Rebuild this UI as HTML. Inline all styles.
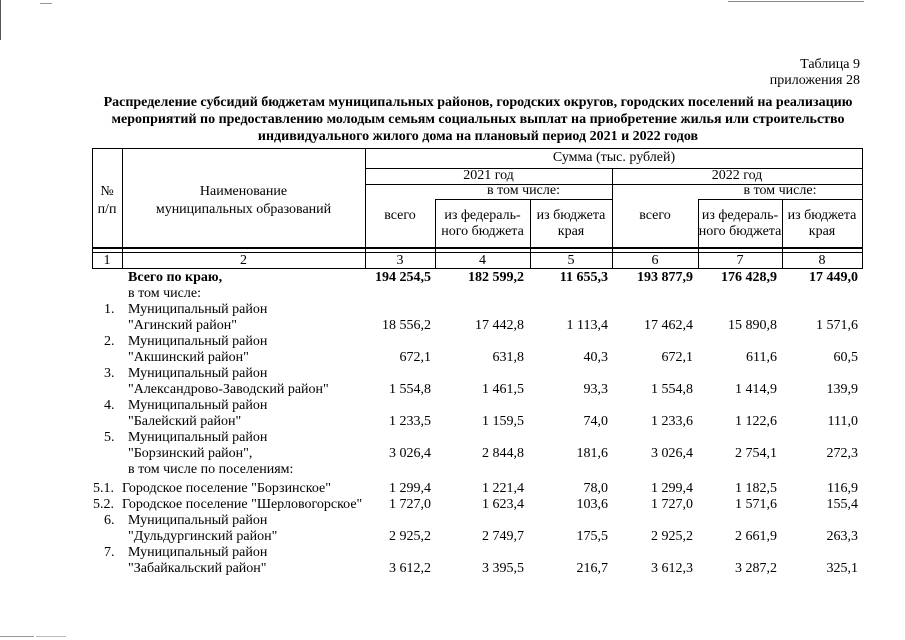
<!DOCTYPE html>
<html><head><meta charset="utf-8"><style>
body{margin:0;width:905px;height:640px;background:#fff;position:relative;overflow:hidden;font-family:"Liberation Serif","DejaVu Serif",serif;font-size:14px;color:#000}
.t{position:absolute;white-space:nowrap;line-height:16px}
.c{position:absolute;text-align:center;line-height:16px;white-space:nowrap}
.h{position:absolute;background:#000;height:1px}
.v{position:absolute;background:#000;width:1px}
.b{font-weight:bold}
.r{text-align:right}
</style></head><body>
<div class="h" style="left:728px;top:1px;width:136px;background:#888"></div>
<div class="h" style="left:40px;top:3px;width:12px;background:#999"></div>
<div class="v" style="left:0;top:0;height:40px;background:#555"></div>

<div class="t r" style="right:45px;top:57px">Таблица 9</div>
<div class="t r" style="right:45px;top:73px">приложения 28</div>
<div class="c b" style="left:60px;width:836px;top:95px">Распределение субсидий бюджетам муниципальных районов, городских округов, городских поселений на реализацию</div>
<div class="c b" style="left:60px;width:836px;top:112px">мероприятий по предоставлению молодым семьям социальных выплат на приобретение жилья или строительство</div>
<div class="c b" style="left:60px;width:836px;top:129px">индивидуального жилого дома на плановый период 2021 и 2022 годов</div>

<!-- grid -->
<div class="h" style="left:92px;top:148px;width:771px"></div>
<div class="h" style="left:365px;top:168px;width:498px"></div>
<div class="h" style="left:365px;top:184px;width:498px"></div>
<div class="h" style="left:435px;top:199px;width:177px"></div>
<div class="h" style="left:698px;top:199px;width:165px"></div>
<div class="h" style="left:92px;top:247px;width:771px;height:2px"></div>
<div class="h" style="left:92px;top:252px;width:771px"></div>
<div class="h" style="left:92px;top:268px;width:771px"></div>
<div class="v" style="left:92px;top:148px;height:121px"></div>
<div class="v" style="left:122px;top:148px;height:121px"></div>
<div class="v" style="left:365px;top:148px;height:121px"></div>
<div class="v" style="left:435px;top:199px;height:70px"></div>
<div class="v" style="left:530px;top:199px;height:70px"></div>
<div class="v" style="left:612px;top:168px;height:101px"></div>
<div class="v" style="left:698px;top:199px;height:70px"></div>
<div class="v" style="left:782px;top:199px;height:70px"></div>
<div class="v" style="left:862px;top:148px;height:121px"></div>

<div class="c" style="left:365px;width:498px;top:150px">Сумма (тыс. рублей)</div>
<div class="c" style="left:365px;width:247px;top:168px">2021 год</div>
<div class="c" style="left:612px;width:250px;top:168px">2022 год</div>
<div class="c" style="left:435px;width:177px;top:183px">в том числе:</div>
<div class="c" style="left:698px;width:164px;top:183px">в том числе:</div>
<div class="c" style="left:92px;width:30px;top:183px;line-height:18px">№<br>п/п</div>
<div class="c" style="left:122px;width:243px;top:183px;line-height:18px">Наименование<br>муниципальных образований</div>
<div class="c" style="left:365px;width:70px;top:208px">всего</div>
<div class="c" style="left:435px;width:95px;top:208px">из федераль-<br>ного бюджета</div>
<div class="c" style="left:530px;width:82px;top:208px">из бюджета<br>края</div>
<div class="c" style="left:612px;width:86px;top:208px">всего</div>
<div class="c" style="left:698px;width:84px;top:208px">из федераль-<br>ного бюджета</div>
<div class="c" style="left:782px;width:80px;top:208px">из бюджета<br>края</div>
<div class="c" style="left:92px;width:30px;top:253px">1</div>
<div class="c" style="left:122px;width:243px;top:253px">2</div>
<div class="c" style="left:365px;width:70px;top:253px">3</div>
<div class="c" style="left:435px;width:95px;top:253px">4</div>
<div class="c" style="left:530px;width:82px;top:253px">5</div>
<div class="c" style="left:612px;width:86px;top:253px">6</div>
<div class="c" style="left:698px;width:84px;top:253px">7</div>
<div class="c" style="left:782px;width:80px;top:253px">8</div>

<!-- body -->
<div class="t b" style="left:128px;top:270px">Всего по краю,</div>
<div class="t" style="left:128px;top:286px">в том числе:</div>
<div class="t" style="left:104px;top:302px">1.</div><div class="t" style="left:128px;top:302px">Муниципальный район</div>
<div class="t" style="left:128px;top:318px">"Агинский район"</div>
<div class="t" style="left:104px;top:334px">2.</div><div class="t" style="left:128px;top:334px">Муниципальный район</div>
<div class="t" style="left:128px;top:350px">"Акшинский район"</div>
<div class="t" style="left:104px;top:366px">3.</div><div class="t" style="left:128px;top:366px">Муниципальный район</div>
<div class="t" style="left:128px;top:382px">"Александрово-Заводский район"</div>
<div class="t" style="left:104px;top:398px">4.</div><div class="t" style="left:128px;top:398px">Муниципальный район</div>
<div class="t" style="left:128px;top:414px">"Балейский район"</div>
<div class="t" style="left:104px;top:430px">5.</div><div class="t" style="left:128px;top:430px">Муниципальный район</div>
<div class="t" style="left:128px;top:446px">"Борзинский район",</div>
<div class="t" style="left:128px;top:462px">в том числе по поселениям:</div>
<div class="t" style="left:93px;top:481px">5.1.</div><div class="t" style="left:122px;top:481px">Городское поселение "Борзинское"</div>
<div class="t" style="left:93px;top:497px">5.2.</div><div class="t" style="left:122px;top:497px">Городское поселение "Шерловогорское"</div>
<div class="t" style="left:104px;top:513px">6.</div><div class="t" style="left:128px;top:513px">Муниципальный район</div>
<div class="t" style="left:128px;top:529px">"Дульдургинский район"</div>
<div class="t" style="left:104px;top:545px">7.</div><div class="t" style="left:128px;top:545px">Муниципальный район</div>
<div class="t" style="left:128px;top:561px">"Забайкальский район"</div>

<div id="nums"></div>
<script>
var rows=[[270,["194 254,5","182 599,2","11 655,3","193 877,9","176 428,9","17 449,0"],1],
[318,["18 556,2","17 442,8","1 113,4","17 462,4","15 890,8","1 571,6"]],
[350,["672,1","631,8","40,3","672,1","611,6","60,5"]],
[382,["1 554,8","1 461,5","93,3","1 554,8","1 414,9","139,9"]],
[414,["1 233,5","1 159,5","74,0","1 233,6","1 122,6","111,0"]],
[446,["3 026,4","2 844,8","181,6","3 026,4","2 754,1","272,3"]],
[481,["1 299,4","1 221,4","78,0","1 299,4","1 182,5","116,9"]],
[497,["1 727,0","1 623,4","103,6","1 727,0","1 571,6","155,4"]],
[529,["2 925,2","2 749,7","175,5","2 925,2","2 661,9","263,3"]],
[561,["3 612,2","3 395,5","216,7","3 612,3","3 287,2","325,1"]]];
var rx=[431,524,608,693,777,858];
var h="";
rows.forEach(function(r){r[1].forEach(function(v,i){h+='<div class="t'+(r[2]?' b':'')+'" style="right:'+(905-rx[i])+'px;top:'+r[0]+'px">'+v+'</div>';});});
document.getElementById("nums").innerHTML=h;
</script>
<div class="h" style="left:0;top:636px;width:34px;background:#999"></div>
<div class="h" style="left:36px;top:636px;width:30px;background:#bbb"></div>
</body></html>
